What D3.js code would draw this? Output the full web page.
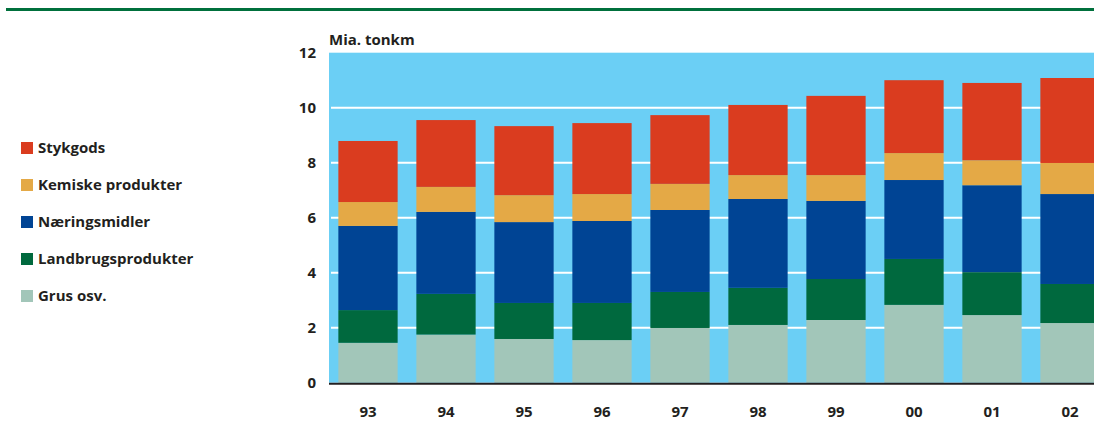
<!DOCTYPE html>
<html>
<head>
<meta charset="utf-8">
<script src="https://cdn.jsdelivr.net/npm/d3@7"></script>
<style>
  body { margin: 0; background: #fff; }
  svg text { font-family: "Open Sans", "Liberation Sans", sans-serif; font-weight: 700; fill: #231f20; }
</style>
</head>
<body>
<div id="canvas"></div>
<script>
// Data (Mia. tonkm)
var years = ["93", "94", "95", "96", "97", "98", "99", "00", "01", "02"];
var grus      = [1.45, 1.75, 1.59, 1.55, 1.99, 2.10, 2.28, 2.83, 2.46, 2.17];
var landbrug  = [1.19, 1.48, 1.31, 1.35, 1.31, 1.35, 1.49, 1.67, 1.56, 1.42];
var naering   = [3.06, 2.98, 2.94, 2.98, 2.98, 3.23, 2.84, 2.87, 3.16, 3.27];
var kemiske   = [0.87, 0.91, 0.98, 0.98, 0.95, 0.87, 0.94, 0.98, 0.91, 1.13];
var stykgods  = [2.22, 2.43, 2.51, 2.58, 2.50, 2.55, 2.88, 2.65, 2.81, 3.09];
var seriesNames = ["Grus osv.", "Landbrugsprodukter", "Næringsmidler", "Kemiske produkter", "Stykgods"];
var seriesColors = ["#a2c6b9", "#00693e", "#004494", "#e4a946", "#da3c1f"];
var yTicks = [0, 2, 4, 6, 8, 10, 12];

var w = 1094, h = 435;
var margin = {top: 52.7, left: 329, bottom: 382.7, right: 1109};

var svg = d3.select("#canvas")
    .append("svg")
    .attr("width", w)
    .attr("height", h);

// green rule at the top
svg.append("rect")
    .attr("x", 6).attr("y", 8)
    .attr("width", w - 6).attr("height", 3)
    .attr("fill", "#00703c");

// table for the stack
var table = years.map((y, i) => ({
    year: y,
    "Grus osv.": grus[i],
    "Landbrugsprodukter": landbrug[i],
    "Næringsmidler": naering[i],
    "Kemiske produkter": kemiske[i],
    "Stykgods": stykgods[i]
}));
var stacked = d3.stack().keys(seriesNames)(table);

var x_scale = d3.scaleBand()
    .domain(years)
    .range([margin.left, margin.right])
    .paddingInner(0.24)
    .paddingOuter(0.12);

var y_scale = d3.scaleLinear()
    .domain([0, 12])
    .range([margin.bottom, margin.top]);

// plot background
svg.append("rect")
    .attr("x", margin.left)
    .attr("y", y_scale(12))
    .attr("width", margin.right - margin.left)
    .attr("height", y_scale(0) - y_scale(12))
    .attr("fill", "#6bcff5");

// gridlines
svg.append("g")
    .selectAll("line")
    .data(yTicks.filter(d => d > 0 && d < 12))
    .join("line")
    .attr("x1", margin.left + 2)
    .attr("x2", margin.right)
    .attr("y1", d => y_scale(d))
    .attr("y2", d => y_scale(d))
    .attr("stroke", "#fff")
    .attr("stroke-width", 2);

// bars
svg.append("g")
    .selectAll("g")
    .data(stacked)
    .join("g")
    .attr("fill", (d, i) => seriesColors[i])
    .selectAll("rect")
    .data(d => d)
    .join("rect")
    .attr("x", d => x_scale(d.data.year))
    .attr("width", x_scale.bandwidth())
    .attr("y", d => y_scale(d[1]))
    .attr("height", d => y_scale(d[0]) - y_scale(d[1]));

// baseline
svg.append("line")
    .attr("x1", margin.left).attr("x2", margin.right)
    .attr("y1", y_scale(0) + 1).attr("y2", y_scale(0) + 1)
    .attr("stroke", "#231f20")
    .attr("stroke-width", 2);

// y labels
svg.append("g")
    .selectAll("text")
    .data(yTicks)
    .join("text")
    .attr("x", 316)
    .attr("y", d => y_scale(d))
    .attr("dy", "0.35em")
    .attr("text-anchor", "end")
    .style("font-size", "15px")
    .text(d => d);

// x labels
svg.append("g")
    .selectAll("text")
    .data(years)
    .join("text")
    .attr("x", d => x_scale(d) + x_scale.bandwidth() / 2)
    .attr("y", 412)
    .attr("dy", "0.35em")
    .attr("text-anchor", "middle")
    .style("font-size", "15px")
    .text(d => d);

// unit label
svg.append("text")
    .attr("x", 329)
    .attr("y", 45)
    .style("font-size", "15px")
    .text("Mia. tonkm");

// legend (top to bottom: Stykgods first)
var legendOrder = seriesNames.slice().reverse();
var legendColors = seriesColors.slice().reverse();
var legend = svg.append("g")
    .selectAll("g")
    .data(legendOrder)
    .join("g")
    .attr("transform", (d, i) => `translate(21,${148 + i * 37})`);

legend.append("rect")
    .attr("x", 0).attr("y", -6)
    .attr("width", 12).attr("height", 12)
    .attr("fill", (d, i) => legendColors[i]);

legend.append("text")
    .attr("x", 17)
    .attr("y", 0)
    .attr("dy", "0.35em")
    .style("font-size", "15px")
    .text(d => d);
</script>
</body>
</html>
